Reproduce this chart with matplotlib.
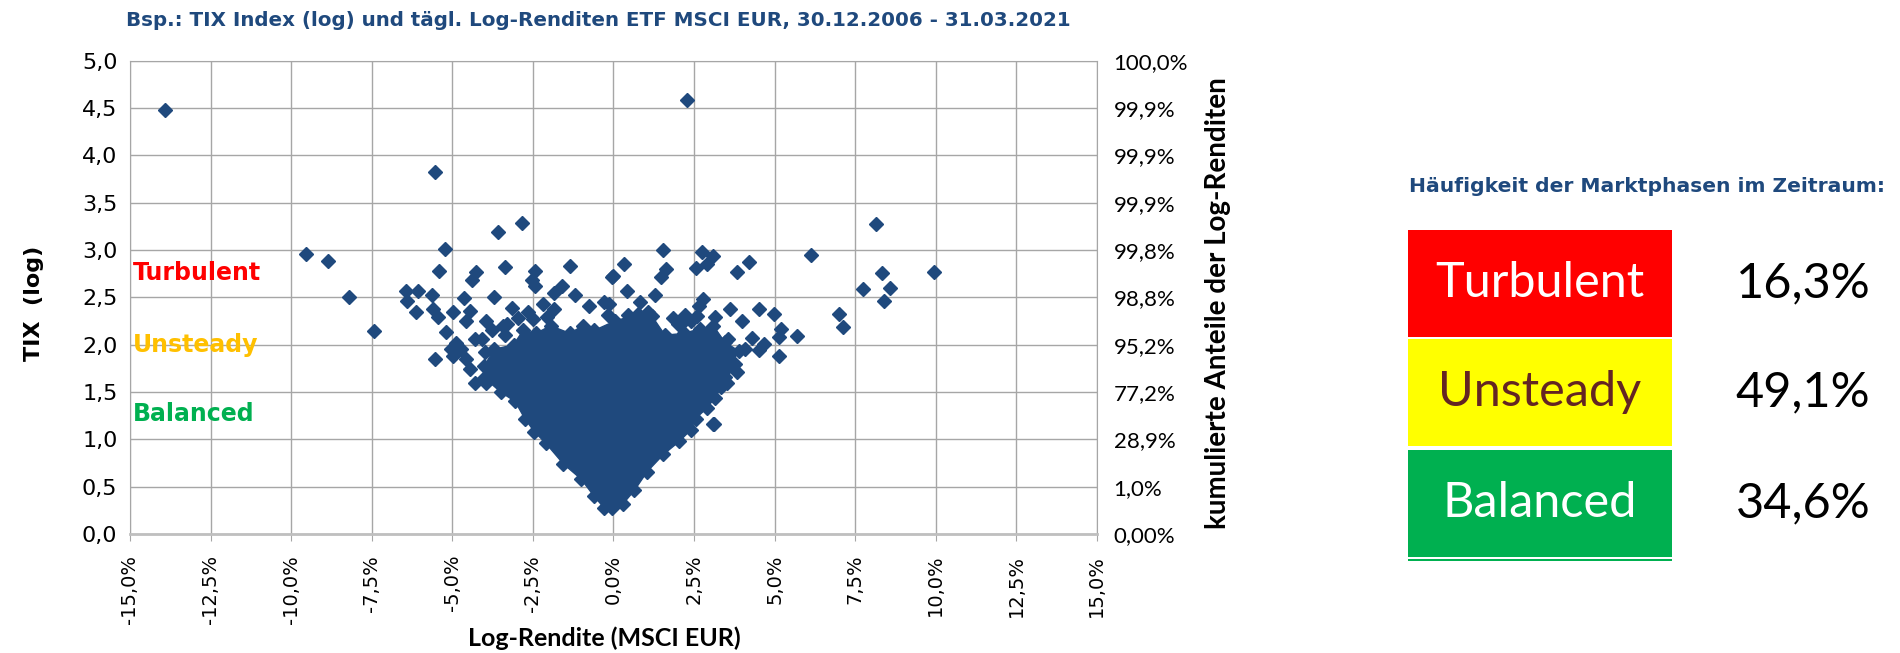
import matplotlib
matplotlib.use("Agg")
import matplotlib.pyplot as plt
from matplotlib.patches import Rectangle

# weit entfernte Punkte (Log-Rendite in %, TIX log)
far_ret = [-13.9, 2.28, -5.55, -2.84, -3.59, 8.16, -9.54, -8.85, -8.19, -7.44,
           6.14, 9.94, 8.33, 8.59, 7.73, 8.40, 7.01, 7.12, -6.44, -6.07,
           -6.39, -6.13, -5.63, -5.60, -5.45, -5.55]
far_tix = [4.48, 4.58, 3.82, 3.29, 3.19, 3.27, 2.96, 2.88, 2.50, 2.14,
           2.95, 2.77, 2.76, 2.60, 2.59, 2.46, 2.32, 2.19, 2.57, 2.57,
           2.46, 2.34, 2.52, 2.38, 2.29, 1.85]

# Punkte am Rand der Wolke
fringe_ret = [-5.24, -5.40, -4.27, -4.40, -3.36, -2.43, -2.53, -2.43, -1.35, -0.03,
              -4.64, -3.70, -1.59, -1.85, -1.18, -0.76, -0.29, -4.98, -4.46, -4.56,
              -3.16, -2.64, -2.17, -1.85, -5.19, -5.03, -4.98, -4.56, -4.46, -4.30,
              -3.94, -3.78, -3.42, -3.36, -4.30, -4.09, -4.88, -4.72, -3.99, -3.89,
              -3.94, -2.48, -2.06, -1.13,
              0.34, -0.02, 0.42, 1.54, 1.62, 1.49, 2.74, 3.10, 2.90, 2.55,
              3.83, 4.22, 2.79, 2.64, 3.63, 4.51, 4.98, 3.99, 2.22, 2.17,
              3.16, 5.19, 5.14, 5.69, 4.30, 4.67, 4.51, 5.14, 3.78, 3.83,
              3.52, 3.10, 1.28, 0.81, 0.45, -0.18, -0.13, 1.13, 1.07, 3.57,
              4.09, 3.13, 2.40, 2.60, -2.95, -3.30, 2.00, 1.85]
fringe_tix = [3.01, 2.78, 2.77, 2.68, 2.82, 2.78, 2.68, 2.62, 2.83, 2.71,
              2.49, 2.50, 2.62, 2.55, 2.52, 2.41, 2.45, 2.34, 2.36, 2.25,
              2.39, 2.34, 2.43, 2.38, 2.13, 1.95, 1.88, 1.85, 1.74, 1.60,
              2.25, 2.15, 2.20, 2.10, 2.06, 2.06, 2.02, 1.95, 1.92, 1.74,
              1.60, 2.27, 2.29, 2.08,
              2.85, 2.73, 2.57, 3.00, 2.80, 2.71, 2.98, 2.94, 2.85, 2.81,
              2.77, 2.87, 2.48, 2.41, 2.38, 2.38, 2.32, 2.25, 2.31, 2.24,
              2.29, 2.17, 2.08, 2.09, 2.07, 2.01, 1.94, 1.88, 1.80, 1.71,
              1.60, 1.16, 2.52, 2.45, 2.31, 2.31, 2.43, 2.31, 2.34, 2.06,
              1.95, 1.16, 2.25, 2.30, 2.28, 2.22, 2.22, 2.28]

# dichter Kern der Punktwolke (Umriss durch die Randpunkte)
core_ret = [-0.05, 0.30, 0.65, 1.05, 1.55, 2.05, 2.40, 2.55, 2.90, 3.15, 3.35,
            3.45, 3.60, 3.90, 3.45, 3.10, 2.70, 2.20, 1.60, 1.20, 0.75, 0.05,
            -0.60, -0.95, -1.35, -1.95, -2.40, -2.80, -3.10, -3.70, -4.00, -4.00,
            -3.50, -3.05, -2.75, -2.45, -2.10, -1.55, -1.00, -0.60, -0.30]
core_tix = [0.28, 0.32, 0.46, 0.66, 0.84, 0.98, 1.10, 1.22, 1.33, 1.44, 1.55,
            1.66, 1.78, 1.93, 2.03, 2.20, 2.17, 2.12, 2.10, 2.30, 2.32, 2.25,
            2.15, 2.20, 2.12, 2.20, 2.12, 2.15, 2.00, 1.95, 1.78, 1.65,
            1.50, 1.40, 1.22, 1.08, 0.96, 0.74, 0.58, 0.40, 0.28]

x_ticks = [-15, -12.5, -10, -7.5, -5, -2.5, 0, 2.5, 5, 7.5, 10, 12.5, 15]
x_labels = ["-15,0%", "-12,5%", "-10,0%", "-7,5%", "-5,0%", "-2,5%", "0,0%",
            "2,5%", "5,0%", "7,5%", "10,0%", "12,5%", "15,0%"]
y_ticks = [0, 0.5, 1, 1.5, 2, 2.5, 3, 3.5, 4, 4.5, 5]
y_labels = ["0,0", "0,5", "1,0", "1,5", "2,0", "2,5", "3,0", "3,5", "4,0", "4,5", "5,0"]
cum_labels = ["0,00%", "1,0%", "28,9%", "77,2%", "95,2%", "98,8%", "99,8%",
              "99,9%", "99,9%", "99,9%", "100,0%"]

phases = ["Turbulent", "Unsteady", "Balanced"]
shares = ["16,3%", "49,1%", "34,6%"]
phase_colors = ["#FF0000", "#FFFF00", "#00B050"]
phase_text_colors = ["white", "#632523", "white"]
label_colors = ["#FF0000", "#FFC000", "#00B050"]
label_levels = [2.76, 2.0, 1.27]

navy = "#1F497D"
grid_c = "#A6A6A6"
ms = 6.7

fig = plt.figure(figsize=(19, 6.53), dpi=100)
ax = fig.add_axes([0.0684, 0.1822, 0.5089, 0.7249])

ax.fill(core_ret, core_tix, color=navy, lw=1, zorder=3)
ax.plot(core_ret, core_tix, "D", color=navy, ms=ms, ls="none", zorder=4)
ax.plot(fringe_ret, fringe_tix, "D", color=navy, ms=ms, ls="none", zorder=4)
ax.plot(far_ret, far_tix, "D", color=navy, ms=ms, ls="none", zorder=4)

ax.set_xlim(-15, 15)
ax.set_ylim(0, 5)
ax.set_xticks(x_ticks, labels=x_labels, rotation=90, fontsize=14)
ax.set_yticks(y_ticks, labels=y_labels, fontsize=16)
ax.tick_params(axis="x", length=5, color=grid_c, pad=10)
ax.tick_params(axis="y", length=0, pad=9)
ax.grid(True, color=grid_c, lw=1)
ax.set_axisbelow(True)
for s in ax.spines.values():
    s.set_color(grid_c)
ax.spines["bottom"].set_color("#BFBFBF")
ax.spines["bottom"].set_linewidth(2)

ax2 = ax.twinx()
ax2.set_ylim(0, 5)
ax2.set_yticks(y_ticks, labels=cum_labels, fontsize=16, family="Lato")
ax2.tick_params(axis="y", length=0, pad=12)
for s in ax2.spines.values():
    s.set_visible(False)

for name, c, lv in zip(phases, label_colors, label_levels):
    ax.text(-14.9, lv, name, color=c, fontsize=17, fontweight="bold", va="center", zorder=5)

fig.text(0.315, 0.969, "Bsp.: TIX Index (log) und tägl. Log-Renditen ETF MSCI EUR, 30.12.2006 - 31.03.2021",
         ha="center", va="center", color=navy, fontsize=14.3, fontweight="bold")
fig.text(0.318, 0.023, "Log-Rendite (MSCI EUR)", ha="center", va="center",
         fontsize=18, fontweight="bold", family="Lato")
fig.text(0.018, 0.536, "TIX  (log)", ha="center", va="center", rotation=90,
         fontsize=16, fontweight="bold")
fig.text(0.641, 0.536, "kumulierte Anteile der Log-Renditen", ha="center", va="center",
         rotation=90, fontsize=20, fontweight="bold", family="Lato")

# Häufigkeit der Marktphasen
fig.text(0.867, 0.715, "Häufigkeit der Marktphasen im Zeitraum:", ha="center", va="center",
         color=navy, fontsize=14.6, fontweight="bold")
box_x, box_w, box_h = 0.741, 0.139, 0.164
box_bottoms = [0.484, 0.317, 0.147]
for name, share, fc, tc, yb in zip(phases, shares, phase_colors, phase_text_colors, box_bottoms):
    fig.patches.append(Rectangle((box_x, yb), box_w, box_h, transform=fig.transFigure,
                                 facecolor=fc, edgecolor="none"))
    fig.text(box_x + box_w / 2, yb + box_h / 2, name, ha="center", va="center",
             color=tc, fontsize=35, family="Lato")
    fig.text(0.949, yb + box_h / 2, share, ha="center", va="center",
             color="black", fontsize=35, family="Lato")
fig.patches.append(Rectangle((box_x, 0.141), box_w, 0.003, transform=fig.transFigure,
                             facecolor="#00B050", edgecolor="none"))

fig.savefig("out.png", dpi=100)
